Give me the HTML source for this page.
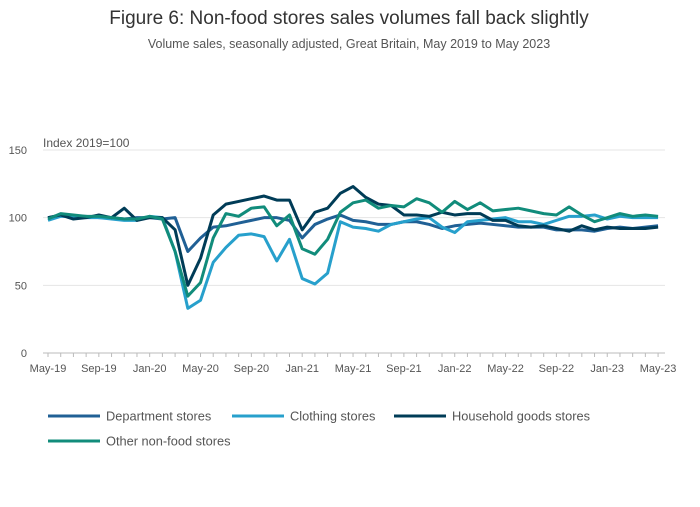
<!DOCTYPE html>
<html><head><meta charset="utf-8"><style>
body{margin:0;background:#fff;font-family:"Liberation Sans",sans-serif;}
svg text{font-family:"Liberation Sans",sans-serif;}
</style></head><body>
<svg id="chart" width="700" height="502">
<text x="349" y="24" text-anchor="middle" font-size="19" fill="#333">Figure 6: Non-food stores sales volumes fall back slightly</text>
<text x="349" y="48" text-anchor="middle" font-size="12.5" fill="#555">Volume sales, seasonally adjusted, Great Britain, May 2019 to May 2023</text>
<text x="43" y="147" font-size="12" fill="#555">Index 2019=100</text>
<g id="grid"></g><g id="xaxis"></g><g id="series"></g><g id="legend"></g>
</svg>
<script>
const yTicks=[0,50,100,150];
const xTickLabels=["May-19","Sep-19","Jan-20","May-20","Sep-20","Jan-21","May-21","Sep-21","Jan-22","May-22","Sep-22","Jan-23","May-23"];
const seriesNames=["Department stores","Clothing stores","Household goods stores","Other non-food stores"];
const department=[100,102,101,101,100,100,99,100,100,99,100,75,85,93,94,96,98,100,100,98,85,95,99,102,98,97,95,95,97,97,95,92,94,95,96,95,94,93,93,93,91,91,91,90,92,93,92,93,94];
const clothing=[98,101,101,100,100,99,98,98,101,100,75,33,39,67,78,87,88,86,68,84,55,51,59,97,93,92,90,95,97,99,100,93,89,97,98,99,100,97,97,95,98,101,101,102,99,101,100,100,100];
const household=[100,102,99,100,102,100,107,98,100,100,91,50,70,102,110,112,114,116,113,113,91,104,107,118,123,115,110,109,102,102,101,104,102,103,103,98,98,94,93,94,92,90,94,91,93,92,92,92,93];
const other=[99,103,102,101,101,100,99,99,101,99,75,42,52,85,103,101,107,108,94,102,77,73,84,104,111,113,107,109,108,114,111,104,112,106,111,105,106,107,105,103,102,108,102,97,100,103,101,102,101];
const colors=["#206095","#27a0cc","#003c57","#118c7b"];
const NS="http://www.w3.org/2000/svg";
const x=i=>48+i*12.71, y=v=>353-v*203/150;
function mk(t,a,p){const e=document.createElementNS(NS,t);for(const k in a)e.setAttribute(k,a[k]);p.appendChild(e);return e;}
const grid=document.getElementById('grid');
yTicks.forEach(v=>{
 const l=mk('line',{x1:43,x2:665,y1:y(v),y2:y(v),stroke:v===0?'#bbb':'#e4e4e4','stroke-width':1},grid);
 
 
 const t=mk('text',{x:27,y:y(v)+4,'text-anchor':'end','font-size':11,fill:'#555'},grid);t.textContent=v;
 
 
});
const xa=document.getElementById('xaxis');
for(let i=0;i<49;i++){const l=mk('line',{x1:x(i),x2:x(i),y1:353,y2:357,stroke:'#bbb'},xa);
 
 }
xTickLabels.forEach((s,k)=>{const t=mk('text',{x:x(k*4),y:372,'text-anchor':'middle','font-size':11,fill:'#555'},xa);t.textContent=s;
 
 });
const sg=document.getElementById('series');
[department,clothing,household,other].forEach((d,k)=>{
 const p=mk('polyline',{points:d.map((v,i)=>x(i)+','+y(v)).join(' '),fill:'none',stroke:colors[k],'stroke-width':3,'stroke-linejoin':'round'},sg);
 
 
});
const lg=document.getElementById('legend');
const lpos=[[48,416],[232,416],[394,416],[48,441]];
seriesNames.forEach((s,k)=>{
 const [lx,ly]=lpos[k];
 const l=mk('line',{x1:lx,x2:lx+52,y1:ly,y2:ly,stroke:colors[k],'stroke-width':3},lg);
 
 
 const t=mk('text',{x:lx+58,y:ly+4.5,'font-size':12.8,fill:'#555'},lg);t.textContent=s;
 
 
});
</script>
</body></html>
